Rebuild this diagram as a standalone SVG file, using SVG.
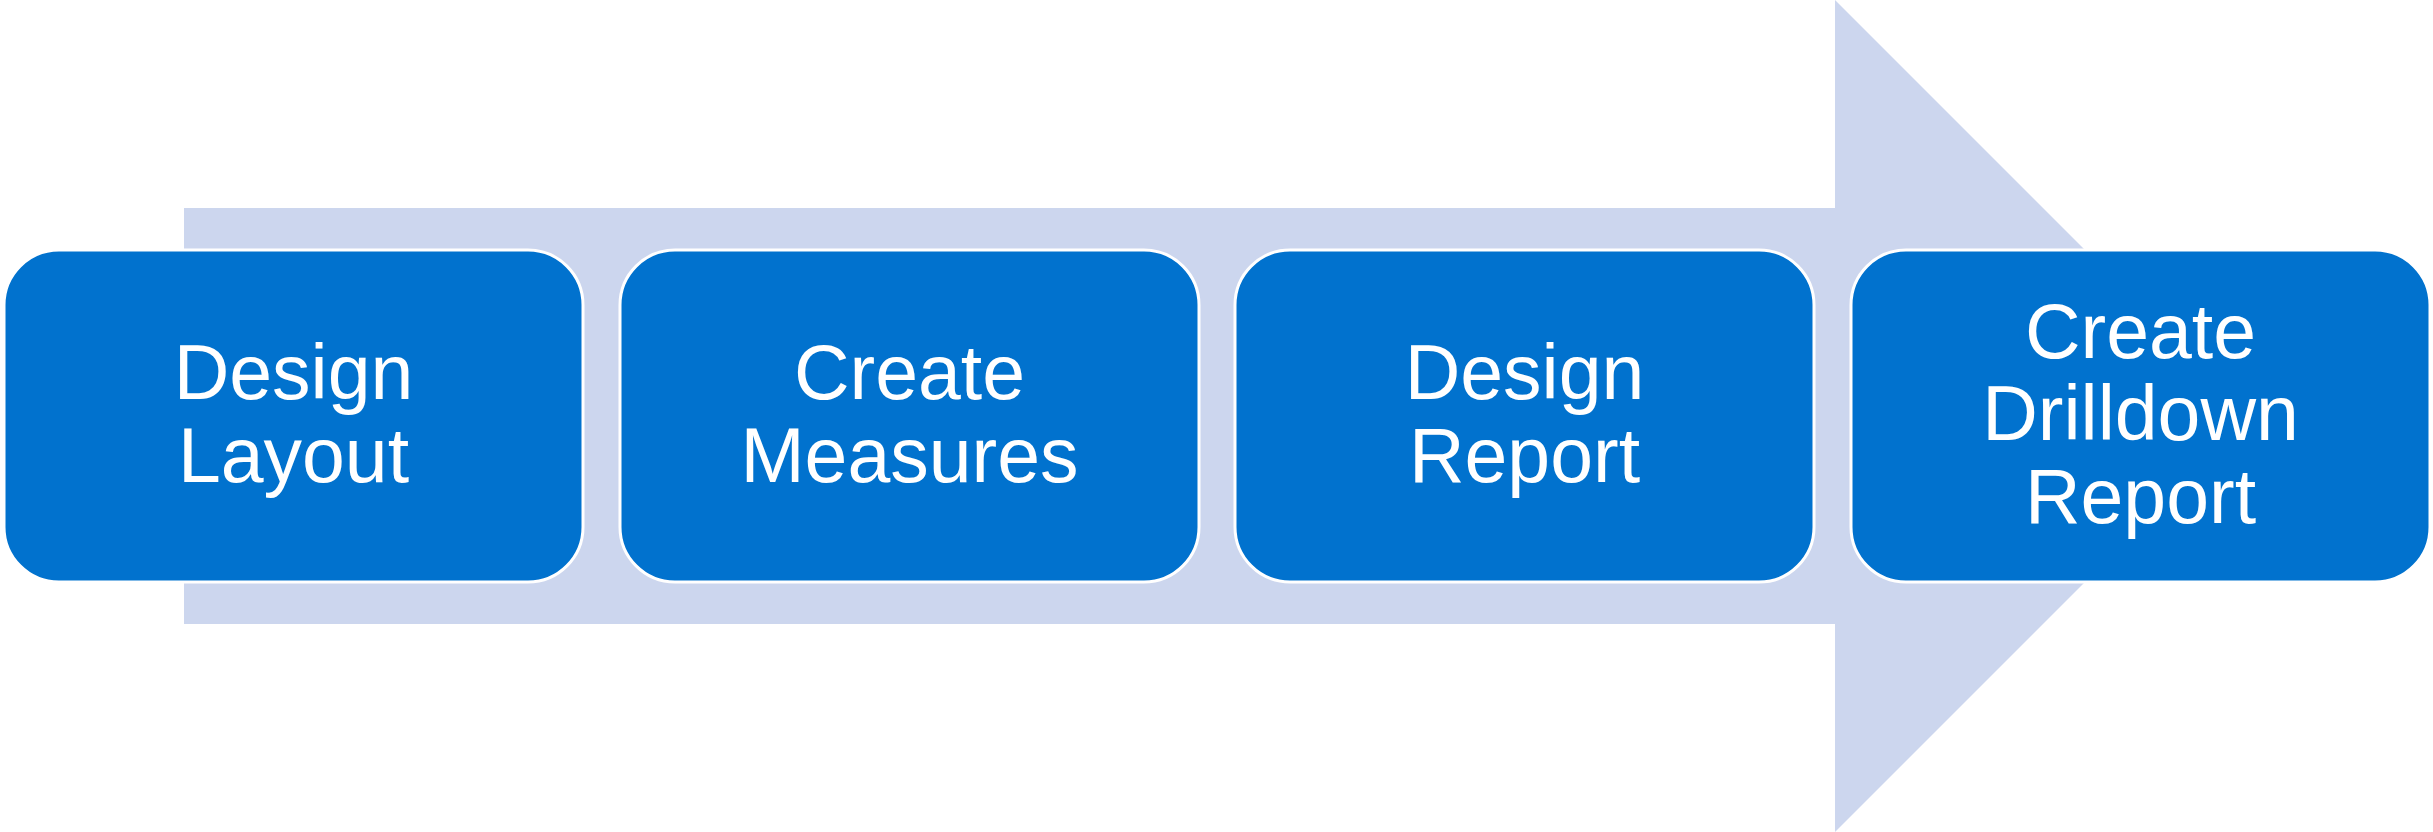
<svg xmlns="http://www.w3.org/2000/svg" width="2433" height="832" viewBox="0 0 2433 832">
<style>
.box{fill:#0172CE;stroke:#FFFFFF;stroke-width:3}
.lbl{fill:#FFFFFF;font-family:"Liberation Sans",Arial,sans-serif;font-size:77px;text-anchor:middle}
</style>
<rect x="0" y="0" width="2433" height="832" fill="#FFFFFF"/>
<g id="arrow">
<polygon points="184,208 1835,208 1835,0 2251,416 1835,832 1835,624 184,624" fill="#CCD6EE"/>
</g>
<g id="connectors"></g>
<g id="node1">
<rect class="box" x="4" y="250" width="579" height="332" rx="55" ry="55"/>
<text class="lbl" x="293.5" y="399">Design</text>
<text class="lbl" x="293.5" y="482">Layout</text>
</g>
<g id="node2">
<rect class="box" x="620" y="250" width="579" height="332" rx="55" ry="55"/>
<text class="lbl" x="909.5" y="399">Create</text>
<text class="lbl" x="909.5" y="482">Measures</text>
</g>
<g id="node3">
<rect class="box" x="1235" y="250" width="579" height="332" rx="55" ry="55"/>
<text class="lbl" x="1524.5" y="399">Design</text>
<text class="lbl" x="1524.5" y="482">Report</text>
</g>
<g id="node4">
<rect class="box" x="1851" y="250" width="579" height="332" rx="55" ry="55"/>
<text class="lbl" x="2140.5" y="358">Create</text>
<text class="lbl" x="2140.5" y="440">Drilldown</text>
<text class="lbl" x="2140.5" y="523">Report</text>
</g>
</svg>
